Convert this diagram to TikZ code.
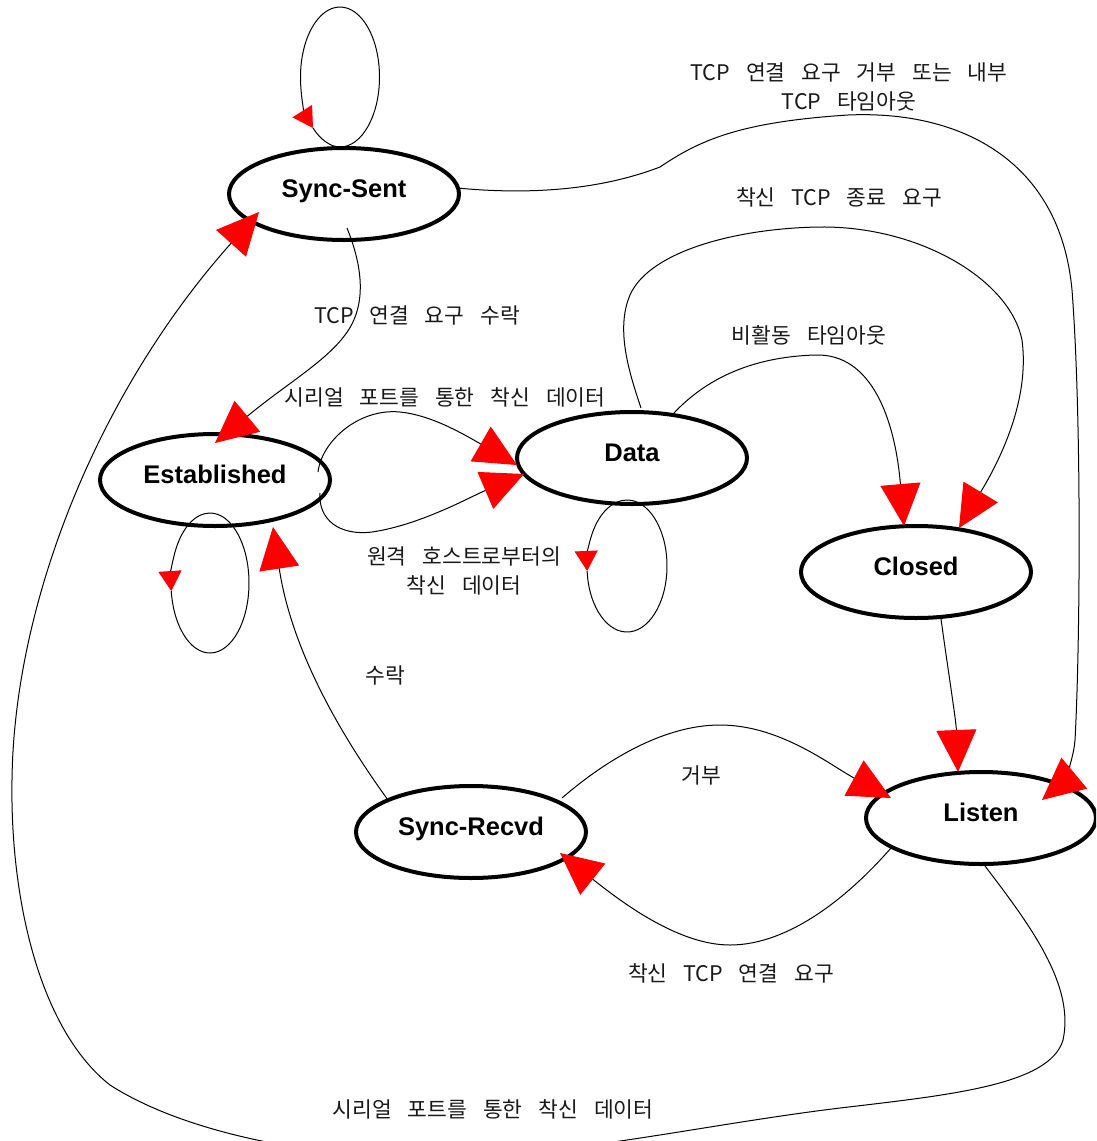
\documentclass[tikz,border=0pt]{standalone}
\usepackage{fontspec}
\setmainfont{Liberation Sans}
\newfontfamily\krfont[WordSpace=3.3]{Noto Sans CJK KR}
\usetikzlibrary{shapes.geometric,arrows.meta,calc}
\begin{document}
\begin{tikzpicture}[x=1pt,y=-1pt,
  stnode/.style={ellipse,draw,line width=4pt,minimum width=230pt,minimum height=92pt,inner sep=0pt,
    font=\fontsize{25.5}{30}\selectfont\bfseries,text height=18pt,text depth=11.8pt},
  edge/.style={line width=1pt,draw=black},
  bigarrow/.style={-{Triangle[length=42pt,width=40pt,color=red]}},
  smallarrow/.style={-{Triangle[length=20pt,width=23pt,color=red]}},
  lbl/.style={font=\krfont\fontsize{21.5}{29}\selectfont,inner sep=0pt,align=center,text=black!90}]
\useasboundingbox (0,0) rectangle (1096,1141);
\clip (0,0) rectangle (1096,1141);
\fill[white] (0,0) rectangle (1096,1141);

% states
\node[stnode] (ss) at (344,194) {Sync-Sent};
\node[stnode] (est) at (215,480) {Established};
\node[stnode] (data) at (632,458) {Data};
\node[stnode] (closed) at (916,572) {Closed};
\node[stnode] (listen) at (981,818) {Listen};
\node[stnode] (sr) at (471,832) {Sync-Recvd};

% self loops
\begin{scope}[shift={(ss.center)}]
  \draw[edge,smallarrow] (-4,-47) .. controls (17.8,-47) and (35.5,-78.3) .. (35.5,-117)
    .. controls (35.5,-155.7) and (17.8,-187) .. (-4,-187)
    .. controls (-25.8,-187) and (-43.5,-155.7) .. (-43.5,-117)
    .. controls (-43.5,-94) and (-38,-77) .. (-31,-66) coordinate (ssl);
  \draw[edge] (ssl) .. controls (-24,-55) and (-14,-47) .. (-4,-47);
\end{scope}
\begin{scope}[shift={(est.center)}]
  \draw[edge,smallarrow] (-5,33) arc[start angle=270,end angle=173.4,x radius=39,y radius=70] coordinate (estl);
  \draw[edge] (estl) arc[start angle=173.4,end angle=-90,x radius=39,y radius=70];
\end{scope}
\begin{scope}[shift={(data.center)}]
  \draw[edge,smallarrow] (-5,42) arc[start angle=270,end angle=175.7,x radius=40,y radius=66] coordinate (datal);
  \draw[edge] (datal) arc[start angle=175.7,end angle=-90,x radius=40,y radius=66];
\end{scope}

% Sync-Sent -> Listen
\draw[edge,bigarrow] ($(ss)+(113,-6)$) .. controls (530,195) and (600,190) .. (660,167)
  .. controls (700,140) and (740,122) .. (848,115)
  .. controls (960,110) and (1060,160) .. (1072,290)
  .. controls (1082,420) and (1080,650) .. (1075,740)
  .. controls (1073,765) and (1060,785) .. ($(listen)+(61,-18)$);
% Sync-Sent -> Established
\draw[edge,bigarrow] ($(ss)+(3,34)$) .. controls (362,265) and (368,305) .. (345,335)
  .. controls (325,362) and (285,385) .. ($(est)+(0,-37)$);
% Established -> Data (two curves)
\draw[edge,bigarrow] ($(est)+(103,-8)$) .. controls (322,440) and (360,408) .. (400,412)
  .. controls (430,415) and (460,432) .. ($(data)+(-115,7)$);
\draw[edge,bigarrow] ($(est)+(105,13)$) .. controls (318,520) and (340,536) .. (372,532)
  .. controls (420,525) and (470,497) .. ($(data)+(-108,16)$);
% Data -> Closed (inactivity)
\draw[edge,bigarrow] ($(data)+(42,-45)$) .. controls (705,380) and (750,357) .. (815,355)
  .. controls (872,353) and (895,420) .. ($(closed)+(-12,-46)$);
% Data -> Closed (FIN)
\draw[edge,bigarrow] ($(data)+(9,-50)$) .. controls (630,375) and (615,330) .. (630,295)
  .. controls (650,250) and (740,228) .. (820,227)
  .. controls (920,226) and (1010,280) .. (1022,340)
  .. controls (1030,400) and (1000,460) .. ($(closed)+(43,-44)$);
% Closed -> Listen
\draw[edge,bigarrow] ($(closed)+(25,47)$) .. controls (948,670) and (956,720) .. ($(listen)+(-23,-46)$);
% Sync-Recvd -> Listen
\draw[edge,bigarrow] ($(sr)+(91,-34)$) .. controls (600,765) and (660,725) .. (720,725)
  .. controls (780,725) and (830,765) .. ($(listen)+(-90,-20)$);
% Listen -> Sync-Recvd
\draw[edge,bigarrow] ($(listen)+(-90,30)$) .. controls (850,895) and (790,945) .. (730,945)
  .. controls (680,945) and (625,905) .. ($(sr)+(89,21)$);
% Sync-Recvd -> Established
\draw[edge,bigarrow] ($(sr)+(-83,-32)$) .. controls (330,720) and (290,640) .. ($(est)+(58,47)$);
% Listen -> Sync-Sent
\draw[edge,bigarrow] ($(listen)+(4,48)$) .. controls (1030,925) and (1075,985) .. (1063,1040)
  .. controls (1050,1085) and (950,1095) .. (840,1108)
  .. controls (700,1125) and (550,1160) .. (420,1158)
  .. controls (300,1156) and (180,1130) .. (110,1085)
  .. controls (40,1030) and (10,900) .. (12,780)
  .. controls (14,600) and (100,390) .. ($(ss)+(-85,18)$);

% labels
\node[lbl] (lrej) at (849,87) {TCP 연결 요구 거부 또는 내부\\TCP 타임아웃};
\node[lbl] (lfin) at (839,197) {착신 TCP 종료 요구};
\node[lbl] (lacc) at (417,315) {TCP 연결 요구 수락};
\node[lbl] (lser) at (445,397) {시리얼 포트를 통한 착신 데이터};
\node[lbl] (lidle) at (809,335) {비활동 타임아웃};
\node[lbl] (lrem) at (464,571) {원격 호스트로부터의\\착신 데이터};
\node[lbl] (lacc2) at (385,675) {수락};
\node[lbl] (lrej2) at (701,775) {거부};
\node[lbl] (lsyn) at (731,973) {착신 TCP 연결 요구};
\node[lbl] (lser2) at (493,1109) {시리얼 포트를 통한 착신 데이터};
\end{tikzpicture}
\end{document}
